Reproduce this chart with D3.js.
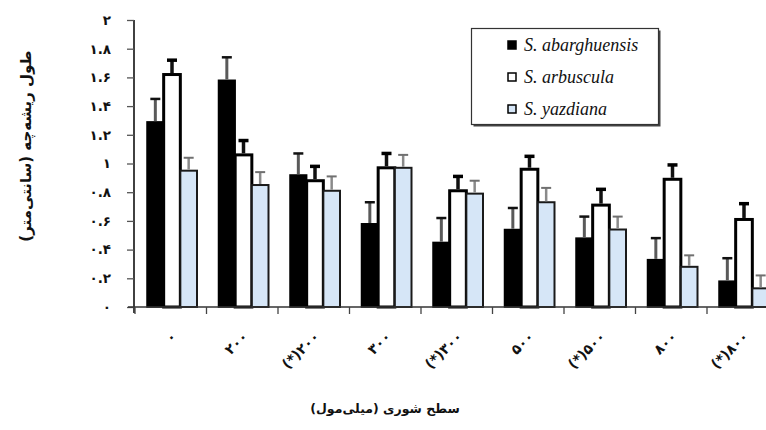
<!DOCTYPE html>
<html>
<head>
<meta charset="utf-8">
<script src="https://cdn.jsdelivr.net/npm/d3@7"></script>
<style>
  html, body { margin: 0; padding: 0; background: #fff; overflow: hidden; }
  svg { display: block; }
</style>
</head>
<body>
<svg id="chart" width="766" height="430"></svg>
<script>
// Salinity levels (mM); (*) marks the treated counterparts
const categories = ["۰", "۲۰۰", "(*)۲۰۰", "۳۰۰", "(*)۳۰۰", "۵۰۰", "(*)۵۰۰", "۸۰۰", "(*)۸۰۰"];
const seriesNames = ["S. abarghuensis", "S. arbuscula", "S. yazdiana"];

// Mean radicle length (cm) per species
const abarghuensis = [1.29, 1.58, 0.92, 0.58, 0.45, 0.54, 0.48, 0.33, 0.18];
const arbuscula    = [1.62, 1.06, 0.88, 0.97, 0.81, 0.96, 0.71, 0.89, 0.61];
const yazdiana     = [0.95, 0.85, 0.81, 0.97, 0.79, 0.73, 0.54, 0.28, 0.13];

// Standard errors
const errAbarghuensis = [0.16, 0.16, 0.15, 0.15, 0.17, 0.15, 0.15, 0.15, 0.16];
const errArbuscula    = [0.10, 0.10, 0.10, 0.10, 0.10, 0.09, 0.11, 0.10, 0.11];
const errYazdiana     = [0.09, 0.09, 0.10, 0.09, 0.09, 0.10, 0.09, 0.08, 0.09];

const yTickValues = [0, 0.2, 0.4, 0.6, 0.8, 1, 1.2, 1.4, 1.6, 1.8, 2];
const yTickLabels = ["۰", "۰.۲", "۰.۴", "۰.۶", "۰.۸", "۱", "۱.۲", "۱.۴", "۱.۶", "۱.۸", "۲"];

const yTitle = "طول ریشه‌چه (سانتی‌متر)";
const xTitle = "سطح شوری (میلی‌مول)";

const means = [abarghuensis, arbuscula, yazdiana];
const errs = [errAbarghuensis, errArbuscula, errYazdiana];

const styles = [
  { fill: "#000", stroke: "#000", sw: 1.5, stem: "#5a5a5a", cap: "#111", stemW: 3, capW: 2.5 },
  { fill: "#fff", stroke: "#000", sw: 3,   stem: "#111",    cap: "#000", stemW: 3.5, capW: 3.5 },
  { fill: "#d6e6f7", stroke: "#1a1a1a", sw: 2, stem: "#8a8a8a", cap: "#707070", stemW: 2.5, capW: 2 }
];

const svg = d3.select("#chart");
const axisX = 134, baseY = 307, topY = 20;

const x0 = d3.scaleBand().domain(categories).range([135, 135 + 71.5 * categories.length]).padding(0);
const x1 = d3.scaleBand().domain(seriesNames).range([12, 62]).padding(0);
const y = d3.scaleLinear().domain([0, 2]).range([baseY, topY]);

const rows = categories.map((c, i) => ({
  cat: c,
  vals: seriesNames.map((s, k) => ({ s, k, v: means[k][i], e: errs[k][i] }))
}));

const groups = svg.append("g").selectAll("g.grp").data(rows).join("g")
  .attr("class", "grp")
  .attr("transform", d => `translate(${x0(d.cat)},0)`);

// bars, drawn in series order so outlines overlap like the legend order
seriesNames.forEach((s, k) => {
  groups.append("rect")
    .attr("x", d => x1(s))
    .attr("y", d => y(d.vals[k].v))
    .attr("width", x1.bandwidth())
    .attr("height", d => baseY - y(d.vals[k].v))
    .attr("fill", styles[k].fill)
    .attr("stroke", styles[k].stroke)
    .attr("stroke-width", styles[k].sw);
});

// error bars (upper half only)
seriesNames.forEach((s, k) => {
  const cx = x1(s) + x1.bandwidth() / 2;
  groups.append("line")
    .attr("x1", cx).attr("x2", cx)
    .attr("y1", d => y(d.vals[k].v) - styles[k].sw / 2)
    .attr("y2", d => y(d.vals[k].v + d.vals[k].e))
    .attr("stroke", styles[k].stem)
    .attr("stroke-width", styles[k].stemW);
  groups.append("line")
    .attr("x1", cx - 5).attr("x2", cx + 5)
    .attr("y1", d => y(d.vals[k].v + d.vals[k].e))
    .attr("y2", d => y(d.vals[k].v + d.vals[k].e))
    .attr("stroke", styles[k].cap)
    .attr("stroke-width", styles[k].capW);
});

// y axis
const yAxis = d3.axisLeft(y)
  .tickValues(yTickValues)
  .tickFormat((d, i) => yTickLabels[i])
  .tickSize(7)
  .tickPadding(16);
const gy = svg.append("g").attr("transform", `translate(${axisX},0)`).call(yAxis);
gy.select(".domain").attr("d", `M0,${topY}V${baseY + 6}`).attr("stroke", "#111").attr("stroke-width", 1.6);
gy.selectAll(".tick line").attr("stroke", "#555").attr("stroke-width", 1.3);
gy.selectAll(".tick text")
  .attr("font-family", "DejaVu Sans, sans-serif")
  .attr("font-weight", "bold")
  .attr("font-size", 13.5)
  .attr("fill", "#111");

// x axis with boundary ticks between groups
const xAxisG = svg.append("g");
xAxisG.append("line")
  .attr("x1", axisX - 6).attr("x2", 780)
  .attr("y1", baseY).attr("y2", baseY)
  .attr("stroke", "#333").attr("stroke-width", 1.6);
xAxisG.selectAll("line.bt").data(categories).join("line")
  .attr("class", "bt")
  .attr("x1", d => x0(d)).attr("x2", d => x0(d))
  .attr("y1", baseY).attr("y2", baseY + 7)
  .attr("stroke", "#444").attr("stroke-width", 1.3);

// slanted category labels
xAxisG.selectAll("text").data(categories).join("text")
  .attr("transform", d => `translate(${x0(d) + x0.bandwidth() / 2 + 3},${baseY + 27}) rotate(-45)`)
  .attr("text-anchor", "end")
  .attr("direction", "ltr")
  .attr("dy", "0.35em")
  .attr("font-family", "DejaVu Sans, sans-serif")
  .attr("font-weight", "bold")
  .attr("font-size", 14)
  .attr("fill", "#111")
  .text(d => d);

// axis titles
svg.append("text")
  .attr("transform", `translate(26,146) rotate(-90)`)
  .attr("text-anchor", "middle")
  .attr("dominant-baseline", "central")
  .attr("font-family", "DejaVu Sans, sans-serif")
  .attr("font-weight", "bold")
  .attr("font-size", 15)
  .attr("fill", "#111")
  .text(yTitle);

svg.append("text")
  .attr("x", 385).attr("y", 408)
  .attr("text-anchor", "middle")
  .attr("dominant-baseline", "central")
  .attr("font-family", "DejaVu Sans, sans-serif")
  .attr("font-weight", "bold")
  .attr("font-size", 12.5)
  .attr("fill", "#111")
  .text(xTitle);

// legend
const lg = svg.append("g");
lg.append("rect")
  .attr("x", 473.5).attr("y", 30.5).attr("width", 187).attr("height", 96)
  .attr("fill", "#444");
lg.append("rect")
  .attr("x", 471.5).attr("y", 28.5).attr("width", 187).attr("height", 96)
  .attr("fill", "#fff").attr("stroke", "#333").attr("stroke-width", 1.2);
const items = lg.selectAll("g.it").data(seriesNames).join("g")
  .attr("class", "it")
  .attr("transform", (d, i) => `translate(508,${45 + i * 32})`);
items.append("rect")
  .attr("x", 0).attr("y", -4).attr("width", 8).attr("height", 8)
  .attr("fill", (d, i) => styles[i].fill)
  .attr("stroke", "#000").attr("stroke-width", 1.5);
items.append("text")
  .attr("x", 16).attr("y", 0)
  .attr("dominant-baseline", "central")
  .attr("font-family", "Liberation Serif, serif")
  .attr("font-style", "italic")
  .attr("font-size", 18)
  .attr("fill", "#111")
  .text(d => d);
</script>
</body>
</html>
